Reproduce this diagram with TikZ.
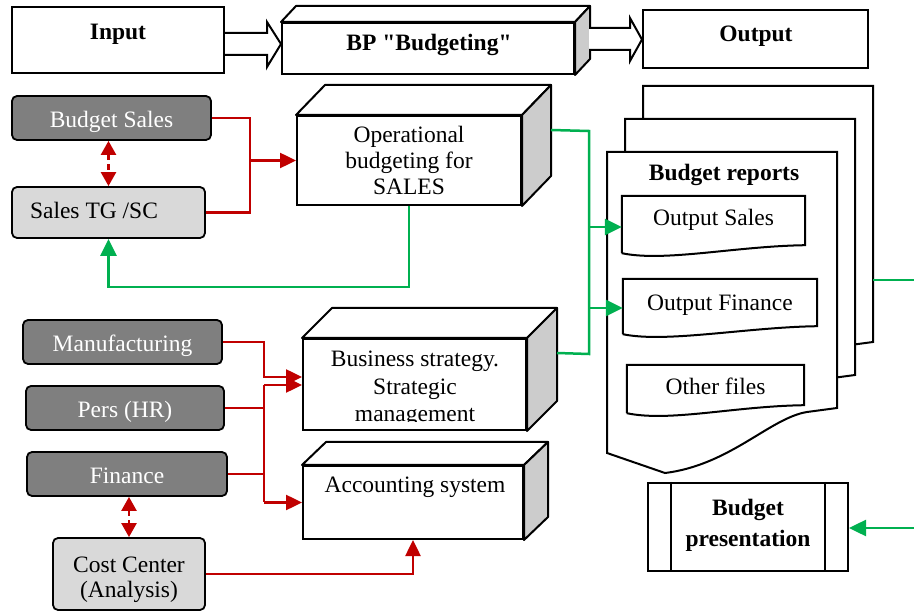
\documentclass[tikz,border=0pt]{standalone}
\usepackage{fontspec}
\setmainfont{Liberation Serif}
\usetikzlibrary{arrows.meta,calc}
\definecolor{rd}{HTML}{C00000}
\definecolor{gn}{HTML}{00B050}
\definecolor{dk}{HTML}{7F7F7F}
\definecolor{lt}{HTML}{D9D9D9}
\definecolor{sd}{HTML}{CCCCCC}
\newcommand\mkcube[3]{%
  \draw[topf] (#1.north west) -- ++(#2,#3) -- ($(#1.north east)+(#2,#3)$) -- (#1.north east) -- cycle;
  \draw[sidef] (#1.north east) -- ++(#2,#3) -- ($(#1.south east)+(#2,#3)$) -- (#1.south east) -- cycle;}
\newcommand\mkdocin[1]{%
  \draw[docline] ($(#1.south west)+(0,8)$) -- (#1.north west) -- (#1.north east) -- (#1.south east)
    .. controls ($(#1.south east)+(-70,1)$) and ($(#1.south west)+(43,17)$) .. ($(#1.south west)+(0,8)$);}
\begin{document}
\begin{tikzpicture}[x=1pt,y=-1pt,font=\fontsize{23.5}{26.5}\selectfont,
  box/.style={draw,line width=2pt,fill=white,inner sep=0pt},
  dkbox/.style={draw,line width=1.8pt,fill=dk,text=white,rounded corners=5pt,inner sep=0pt},
  ltbox/.style={draw,line width=1.8pt,fill=lt,rounded corners=5pt,inner sep=0pt,align=center},
  front/.style={draw,line width=2pt,fill=white,inner sep=0pt,align=center},
  topf/.style={draw,line width=2pt,fill=white,line join=round},
  sidef/.style={draw,line width=2pt,fill=sd,line join=round},
  docline/.style={draw,line width=2pt},
  bigdoc/.style={draw,line width=2pt,fill=white},
  vc/.style={text height=#1,text depth=0pt},
  txt/.style={inner sep=0pt,align=center},
  btxt/.style={inner sep=0pt,align=center,font=\fontsize{23.5}{31}\selectfont\bfseries},
  hollow/.style={draw,line width=2pt,fill=white,line join=miter},
  rline/.style={draw=rd,line width=2.5pt},
  rarrow/.style={rline,-{Triangle[length=16pt,width=15pt]}},
  rdbl/.style={draw=rd,line width=2.5pt,dash pattern=on 6pt off 4pt,
     {Triangle[length=14pt,width=15pt]}-{Triangle[length=14pt,width=15pt]}},
  gline/.style={draw=gn,line width=2.5pt},
  garrow/.style={gline,-{Triangle[length=17pt,width=16pt]}}]
\useasboundingbox (0,0) rectangle (914,612);

% ---------- top row ----------
\node[box,minimum width=212pt,minimum height=66pt] (input) at (118,40) {};
\node[btxt,anchor=base] (inputT) at (118,39.8) {Input};
\node[front,minimum width=292pt,minimum height=51pt] (bp) at (428,48.5) {};
\mkcube{bp}{15}{-16}
\node[btxt,anchor=base] (bpT) at (429,50.8) {BP \textquotedbl Budgeting\textquotedbl};
\node[box,minimum width=225pt,minimum height=58pt] (output) at (755.5,39) {};
\node[btxt,anchor=base] (outputT) at (756,41.8) {Output};
\draw[hollow] (input.east |- 0,33) -- (267,33) -- (267,22) -- (bp.west |- 0,44) -- (267,67) -- (267,55) -- (input.east |- 0,55);
\draw[hollow] (589,28) -- (630,28) -- (630,18) -- (output.west |- 0,39.5) -- (630,61) -- (630,50) -- (589,50);

% ---------- left sources ----------
\node[dkbox,vc=19.6pt,minimum width=199pt,minimum height=44pt] (bsales) at (111.5,118) {Budget Sales};
\node[ltbox,vc=12.6pt,minimum width=193pt,minimum height=51pt] (salestg) at (108.5,212.5) {Sales TG /SC\hspace{29pt}};
\node[dkbox,vc=19.6pt,minimum width=199pt,minimum height=44pt] (manuf) at (122.5,342) {Manufacturing\hspace{23pt}};
\node[dkbox,vc=19.6pt,minimum width=198pt,minimum height=44pt] (pers) at (125,408) {Pers (HR)};
\node[dkbox,vc=19.6pt,minimum width=200pt,minimum height=44pt] (fin) at (127,474) {Finance};
\node[ltbox,minimum width=152pt,minimum height=72pt] (cost) at (129,574) {};
\node[txt,font=\fontsize{23.5}{25}\selectfont] (costT) at (129,579.5) {Cost Center\\(Analysis)};

% ---------- cubes ----------
\node[front,minimum width=224pt,minimum height=89pt,font=\fontsize{23.5}{26}\selectfont] (op) at (409,160.5) {Operational\\budgeting for\\SALES};
\mkcube{op}{29}{-30}
\node[front,minimum width=223pt,minimum height=91pt] (bs) at (414.5,384.5) {};
\mkcube{bs}{30}{-30}
\begin{scope}
  \clip (303,335) rectangle (526,422);
  \node[txt,font=\fontsize{23.5}{27.5}\selectfont] (bsT) at (415,389) {Business strategy.\\Strategic\\management};
\end{scope}
\node[front,minimum width=220pt,minimum height=73pt] (acc) at (413,502.5) {};
\mkcube{acc}{24}{-23}
\node[txt,anchor=base] (accT) at (415,492.8) {Accounting system};

% ---------- documents ----------
\foreach \dx/\dy in {36/-66,18/-33,0/0}{
  \begin{scope}[shift={(\dx,\dy)}]
    \draw[bigdoc] (607,152) -- (837,152) -- (837,408) -- (807,412)
      .. controls (770,418) and (730,465) .. (665,473) -- (607,453) -- cycle;
  \end{scope}}
\node[btxt,anchor=base] (rep) at (724,180.8) {Budget reports};
\node[txt,vc=10.6pt,minimum width=183pt,minimum height=49pt] (osales) at (713.5,220.5) {Output Sales};
\mkdocin{osales}
\node[txt,vc=16.6pt,minimum width=194pt,minimum height=47pt] (ofin) at (720,302.5) {Output Finance};
\mkdocin{ofin}
\node[txt,vc=19.6pt,minimum width=177pt,minimum height=40pt] (other) at (715.5,385) {Other files};
\mkdocin{other}

\node[box,minimum width=200pt,minimum height=88pt] (bpres) at (748,527) {};
\draw[line width=2pt] ($(bpres.north west)+(24,0)$) -- ($(bpres.south west)+(24,0)$);
\draw[line width=2pt] ($(bpres.north east)+(-24,0)$) -- ($(bpres.south east)+(-24,0)$);
\node[btxt] (bpresT) at (748,525.5) {Budget\\presentation};

% ---------- red connectors ----------
\draw[rline] (bsales.east) -- (250,118) -- (250,212.5) -- (salestg.east);
\draw[rarrow] (250,160.5) -- (op.west);
\draw[rdbl] (salestg.north |- bsales.south) -- (salestg.north);
\draw[rarrow] (manuf.east) -- (264,342) -- (264,377) -- (bs.west |- 0,377);
\draw[rline] (pers.east) -- (264,408);
\draw[rline] (fin.east) -- (264,474);
\draw[rline] (264,385) -- (264,502.5);
\draw[rarrow] (264,385) -- (bs.west |- 0,385);
\draw[rarrow] (264,502.5) -- (acc.west);
\draw[rdbl] (cost.north |- fin.south) -- (cost.north);
\draw[rarrow] (cost.east) -- (acc.south |- cost.east) -- (acc.south);

% ---------- green connectors ----------
\coordinate (trTop) at (589,131);
\coordinate (trBot) at (589,354);
\draw[gline] ($(op.north east)+(29,15)$) -- (trTop) -- (trBot) -- ($(bs.north east)+(30,15)$);
\draw[garrow] (589,227) -- (osales.west |- 589,227);
\draw[garrow] (589,308) -- (ofin.west |- 589,308);
\draw[garrow] (op.south) -- (op.south |- 0,287) -- (salestg.south |- 0,287) -- (salestg.south);
\coordinate (edgeA) at (914,280);
\coordinate (edgeB) at (914,528);
\draw[gline] (873,280) -- (edgeA);
\draw[garrow] (edgeB) -- (bpres.east |- edgeB);
\end{tikzpicture}
\end{document}
